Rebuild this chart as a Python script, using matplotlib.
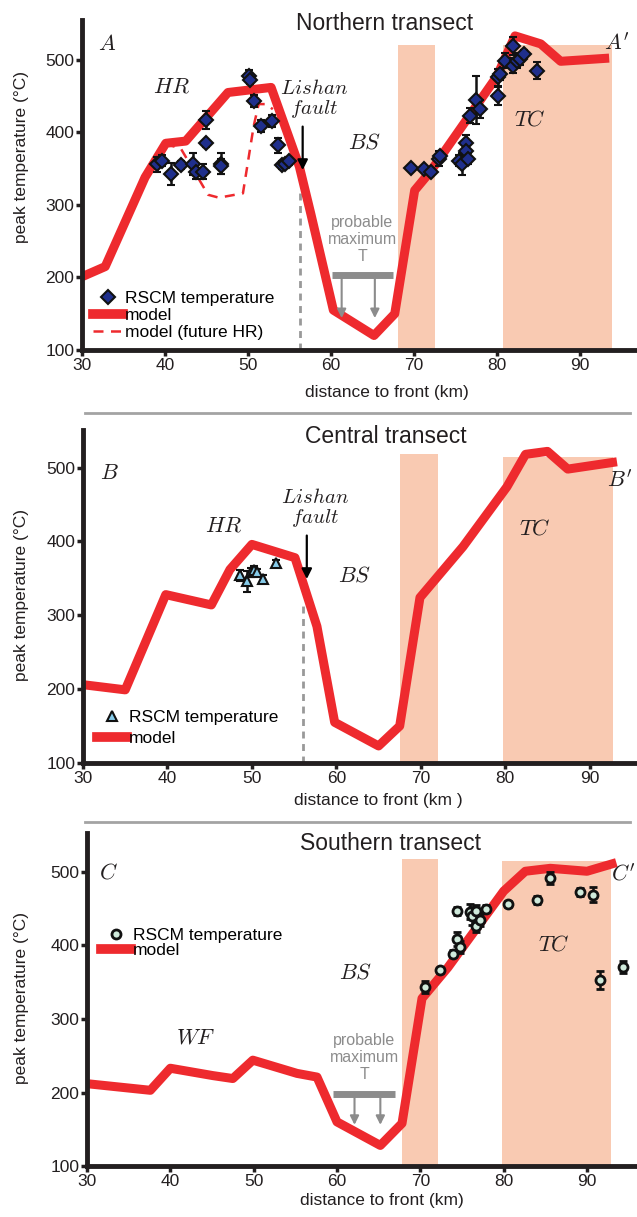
import matplotlib
matplotlib.use('Agg')
import matplotlib.pyplot as plt
from matplotlib.lines import Line2D

plt.rcParams['font.family'] = ['Liberation Sans', 'DejaVu Sans']
plt.rcParams['mathtext.fontset'] = 'cm'

RED = '#ee2a2e'
SHADE = '#f9cab2'
GRAY = '#8c8c8c'

# ---- northern transect (A) ----
a_model_x = [30, 32.8, 37.6, 40.1, 42.5, 47.6, 52.8, 56.2, 57.6, 60.3, 65.2, 67.7, 70.1, 72, 80, 82.2, 85.3, 87.7, 93]
a_model_y = [201, 215, 338, 385, 388, 455, 462, 353, 287, 155, 120, 150, 320, 346, 477, 533, 522, 498, 502]
a_future_x = [40, 41.9, 45.2, 46.5, 49.4, 50.7, 51.3, 52.2, 53]
a_future_y = [384, 378, 314, 310, 316, 409, 439, 439, 432]
a_rscm_x = [39.1, 39.6, 40.7, 41.9, 43.4, 43.8, 44.6, 44.9, 45.0, 46.7, 46.8, 50.1, 50.2, 50.7, 51.6, 52.9,
            53.6, 54.1, 54.5, 55.0,
            69.7, 71.2, 72.1, 73.0, 73.2, 75.5, 75.8, 76.3, 76.3, 76.5, 76.8, 77.5, 78.0, 80.1, 80.1, 80.4,
            81.0, 82.0, 82.0, 82.4, 82.8, 83.3, 84.9]
a_rscm_y = [356, 361, 343, 355, 356, 346, 346, 385, 417, 357, 353, 478, 472, 443, 409, 416,
            382, 355, 356, 360,
            351, 349, 346, 364, 367, 361, 356, 386, 374, 364, 423, 445, 432, 450, 476, 480,
            499, 519, 492, 499, 501, 508, 485]
a_rscm_err = [10, 8, 15, 5, 15, 10, 10, 5, 12, 15, 10, 8, 5, 8, 8, 8,
              10, 5, 5, 5,
              4, 4, 5, 10, 6, 8, 15, 10, 8, 8, 10, 33, 12, 12, 12, 8,
              10, 12, 10, 10, 8, 6, 12]
a_bs_zone = [68.1, 72.6]
a_tc_zone = [80.7, 93.9]

# ---- central transect (B) ----
b_model_x = [30, 35, 39.8, 45.2, 47.4, 50, 55.1, 57.7, 59.8, 65, 67.5, 69.9, 75, 80.2, 82.4, 85, 87.4, 92.7]
b_model_y = [206, 199, 328, 314, 362, 396, 378, 285, 155, 123, 150, 324, 393, 474, 518, 522, 498, 507]
b_rscm_x = [48.6, 49.4, 49.9, 50.2, 50.6, 51.3, 52.9]
b_rscm_y = [354, 346, 358, 361, 358, 349, 371]
b_rscm_err = [8, 14, 6, 6, 5, 5, 4]
b_bs_zone = [67.5, 72.0]
b_tc_zone = [79.7, 92.7]

# ---- southern transect (C) ----
c_model_x = [30, 37.6, 40, 45.1, 47.5, 49.9, 55.2, 57.6, 60, 65.2, 67.8, 70.2, 73.3, 80, 82.6, 85.6, 90, 93]
c_model_y = [212, 203, 233, 223, 219, 244, 226, 221, 160, 128, 158, 328, 370, 474, 501, 505, 501, 511]
c_rscm_x = [70.5, 72.3, 73.9, 74.4, 74.8, 74.4, 76.0, 76.2, 76.7, 76.7, 77.2, 77.9, 80.5, 84.0, 85.5,
            89.1, 90.7, 91.6, 94.3]
c_rscm_y = [344, 366, 389, 409, 398, 447, 446, 440, 447, 427, 435, 450, 457, 462, 492, 473, 469, 353, 371]
c_rscm_err = [8, 4, 5, 10, 8, 6, 10, 12, 8, 8, 8, 5, 4, 5, 8, 5, 10, 12, 8]
c_bs_zone = [67.8, 72.1]
c_tc_zone = [79.8, 92.9]

xticks = [30, 40, 50, 60, 70, 80, 90]
yticks = [100, 200, 300, 400, 500]


def style_axes(ax, xmax, ymax):
    ax.set_xlim(30, xmax)
    ax.set_ylim(100, ymax)
    for s in ['top', 'right']:
        ax.spines[s].set_visible(False)
    for s in ['left', 'bottom']:
        ax.spines[s].set_linewidth(3.5)
        ax.spines[s].set_color('#231f20')
    ax.set_xticks(xticks)
    ax.set_yticks(yticks)
    ax.tick_params(direction='out', length=4, width=2.5, color='#231f20',
                   labelsize=12.5, pad=1.5, labelcolor='#231f20')
    ax.patch.set_alpha(0)


def shade(ax, zone, top):
    ax.fill_between(zone, 100, top, color=SHADE, lw=0, zorder=0)


def italic(ax, x, y, s, size=16, **kw):
    ax.text(x, y, s, fontsize=size, ha='center', va='center', color='#231f20', **kw)


def prob_max(ax, x0, x1, ybar, arrows, ybot, ytxt):
    ax.plot([x0, x1], [ybar, ybar], color=GRAY, lw=5, solid_capstyle='butt', zorder=3)
    for xa in arrows:
        ax.annotate('', xy=(xa, ybot), xytext=(xa, ybar),
                    arrowprops=dict(arrowstyle='-|>', color=GRAY, lw=1.5, mutation_scale=13,
                                    shrinkA=0, shrinkB=0))
    ax.text((x0 + x1) / 2, ytxt, 'probable\nmaximum\nT', ha='center', va='center',
            color=GRAY, fontsize=11.5, linespacing=1.15)


def lishan(ax, x, ytop, ybot, xt, yt, xdot, ydot):
    ax.annotate('', xy=(x, ybot), xytext=(x, ytop),
                arrowprops=dict(arrowstyle='-|>', color='k', lw=1.6, mutation_scale=15,
                                shrinkA=0, shrinkB=0))
    italic(ax, xt, yt, '$\\mathit{Lishan}$\n$\\mathit{fault}$', size=15, linespacing=1.0)
    ax.plot([xdot, xdot], [100, ydot], color='#999999', lw=2, ls=(0, (2.5, 2)), zorder=1)


fig = plt.figure(figsize=(6.37, 12.17), dpi=100)
axA = fig.add_axes([0.1287, 0.7124, 0.8713, 0.2712])
axB = fig.add_axes([0.1303, 0.3731, 0.8697, 0.2736])
axC = fig.add_axes([0.1366, 0.0419, 0.8634, 0.2736])

# panel A
style_axes(axA, 96.9, 555)
shade(axA, a_bs_zone, 520)
shade(axA, a_tc_zone, 520)
axA.plot(a_model_x, a_model_y, color=RED, lw=6.5, zorder=2)
axA.plot(a_future_x, a_future_y, color=RED, lw=1.8, ls=(0, (4, 3)), zorder=2)
axA.errorbar(a_rscm_x, a_rscm_y, yerr=a_rscm_err, fmt='D', ms=7, mfc='#1f2f8c', mec='#111111',
             mew=1.5, ecolor='#111111', elinewidth=1.8, capsize=3, capthick=1.8, zorder=4)
lishan(axA, 56.6, 408, 348, 58.0, 446, 56.3, 318)
prob_max(axA, 60.1, 67.5, 203, [61.3, 65.3], 144, 252)
italic(axA, 33.0, 521, '$\\mathit{A}$')
italic(axA, 40.8, 463, '$\\mathit{HR}$')
italic(axA, 64.1, 385, '$\\mathit{BS}$')
italic(axA, 84.0, 417, '$\\mathit{TC}$')
italic(axA, 94.5, 521, "$\\mathit{A}'$")
hA = [Line2D([], [], ls='none', marker='D', ms=7, mfc='#1f2f8c', mec='#111111', mew=1.5),
      Line2D([], [], color=RED, lw=7),
      Line2D([], [], color=RED, lw=1.8, ls=(0, (4, 3)))]
axA.legend(hA, ['RSCM temperature', 'model', 'model (future HR)'], loc='upper left',
           bbox_to_anchor=(0.02, 0.178), frameon=False, fontsize=12.5, handlelength=1.75,
           handletextpad=0.1, labelspacing=0.1, borderpad=0, borderaxespad=0)

# panel B
style_axes(axB, 95.6, 551)
shade(axB, b_bs_zone, 518)
shade(axB, b_tc_zone, 515)
axB.plot(b_model_x, b_model_y, color=RED, lw=6.5, zorder=2)
axB.errorbar(b_rscm_x, b_rscm_y, yerr=b_rscm_err, fmt='^', ms=7.5, mfc='#86cbe9', mec='#111111',
             mew=1.5, ecolor='#111111', elinewidth=1.8, capsize=3, capthick=1.8, zorder=4)
lishan(axB, 56.5, 408, 349, 57.5, 444, 56.0, 313)
italic(axB, 33.1, 492, '$\\mathit{B}$')
italic(axB, 46.6, 421, '$\\mathit{HR}$')
italic(axB, 62.2, 353, '$\\mathit{BS}$')
italic(axB, 83.5, 417, '$\\mathit{TC}$')
italic(axB, 93.5, 481, "$\\mathit{B}'$")
hB = [Line2D([], [], ls='none', marker='^', ms=7.5, mfc='#86cbe9', mec='#111111', mew=1.5),
      Line2D([], [], color=RED, lw=7)]
axB.legend(hB, ['RSCM temperature', 'model'], loc='upper left',
           bbox_to_anchor=(0.025, 0.16), frameon=False, fontsize=12.5, handlelength=1.75,
           handletextpad=0.1, labelspacing=0.35, borderpad=0, borderaxespad=0)

# panel C
style_axes(axC, 96.0, 553)
shade(axC, c_bs_zone, 518)
shade(axC, c_tc_zone, 515)
axC.plot(c_model_x, c_model_y, color=RED, lw=6.5, zorder=2)
axC.errorbar(c_rscm_x, c_rscm_y, yerr=c_rscm_err, fmt='o', ms=6.5, mfc='#cfeadb', mec='#111111',
             mew=2, ecolor='#111111', elinewidth=1.8, capsize=3, capthick=1.8, zorder=4)
prob_max(axC, 59.5, 67.0, 198, [62.1, 65.2], 156, 248)
italic(axC, 32.6, 499, '$\\mathit{C}$')
italic(axC, 43.0, 274, '$\\mathit{WF}$')
italic(axC, 62.2, 362, '$\\mathit{BS}$')
italic(axC, 86.0, 400, '$\\mathit{TC}$')
italic(axC, 94.3, 497, "$\\mathit{C}'$")
hC = [Line2D([], [], ls='none', marker='o', ms=6.5, mfc='#cfeadb', mec='#111111', mew=2),
      Line2D([], [], color=RED, lw=7)]
axC.legend(hC, ['RSCM temperature', 'model'], loc='upper left',
           bbox_to_anchor=(0.025, 0.715), frameon=False, fontsize=12.5, handlelength=1.75,
           handletextpad=0.1, labelspacing=0.0, borderpad=0, borderaxespad=0)

# titles, labels, separators
H = 1217.0
for txt, xc, yc in [('Northern transect', 385, 23), ('Central transect', 386, 437),
                    ('Southern transect', 390, 843)]:
    fig.text(xc / 637, 1 - yc / H, txt, ha='center', va='center', fontsize=16.5, color='#231f20')
for txt, xc, yc in [('distance to front (km)', 387, 392), ('distance to front (km )', 378, 800),
                    ('distance to front (km)', 382, 1201)]:
    fig.text(xc / 637, 1 - yc / H, txt, ha='center', va='center', fontsize=12.5, color='#231f20')
for yc in [157, 595, 998]:
    fig.text(22 / 637, 1 - yc / H, 'peak temperature (°C)', ha='center', va='center',
             rotation=90, fontsize=12.5, color='#231f20')
for yc in [413, 822]:
    fig.add_artist(Line2D([85 / 637, 630 / 637], [1 - yc / H, 1 - yc / H], color='#a3a3a3', lw=2,
                          transform=fig.transFigure))

fig.savefig('out.png', dpi=100)
